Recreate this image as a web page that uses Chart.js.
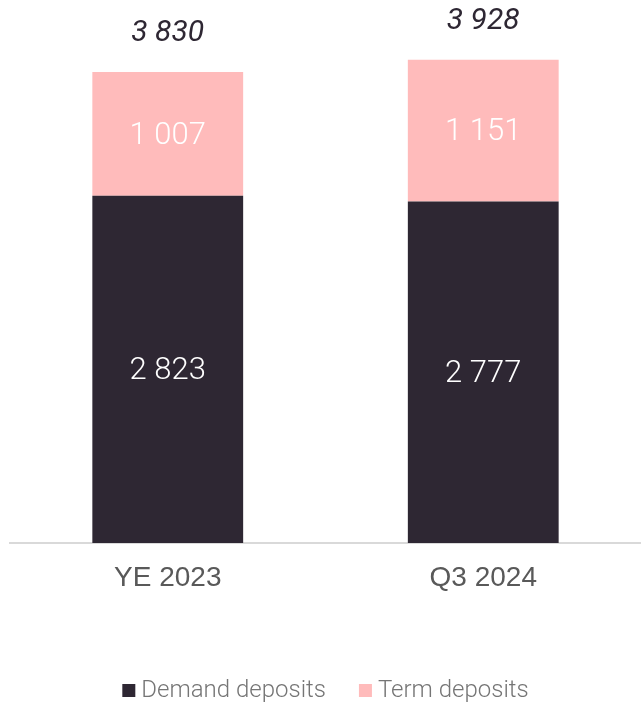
<!DOCTYPE html>
<html>
<head>
<meta charset="utf-8">
<script src="https://cdn.jsdelivr.net/npm/chart.js@4/dist/chart.umd.min.js"></script>
<style>
  html, body { margin: 0; padding: 0; background: #fff; overflow: hidden; }
  #wrap { width: 641px; height: 704px; }
</style>
</head>
<body>
<div id="wrap"><canvas id="grafico"></canvas></div>
<script>
// dados do gráfico
const categorias = ['YE 2023', 'Q3 2024'];
const demandDeposits = [2823, 2777];
const termDeposits = [1007, 1151];

function formatar(v) {
  return String(v).replace(/\B(?=(\d{3})+(?!\d))/g, ' ');
}

// desenha os valores dentro das barras, os totais em cima e a legenda
const rotulos = {
  id: 'rotulos',
  afterDatasetsDraw(chart) {
    const ctx = chart.ctx;
    ctx.save();
    ctx.textAlign = 'center';
    ctx.textBaseline = 'middle';
    ctx.fillStyle = '#ffffff';
    ctx.font = '300 31px Roboto';
    chart.data.datasets.forEach(function(ds, i) {
      chart.getDatasetMeta(i).data.forEach(function(bar, j) {
        const meio = (bar.y + bar.base) / 2;
        ctx.fillText(formatar(ds.data[j]), bar.x, meio + 2);
      });
    });
    const topo = chart.getDatasetMeta(chart.data.datasets.length - 1).data;
    ctx.fillStyle = '#2e2733';
    ctx.font = 'italic 400 30px Roboto';
    ctx.textBaseline = 'bottom';
    topo.forEach(function(bar, j) {
      const total = demandDeposits[j] + termDeposits[j];
      ctx.fillText(formatar(total), bar.x, bar.y - 23);
    });
    ctx.restore();
  },
  afterDraw(chart) {
    // legenda manual (o espaçamento do Chart.js não bate)
    const ctx = chart.ctx;
    const area = chart.chartArea;
    ctx.save();
    ctx.font = '300 24px Roboto';
    ctx.textBaseline = 'middle';
    ctx.textAlign = 'left';
    const itens = chart.data.datasets.map(function(ds) {
      return { texto: ds.label, cor: ds.backgroundColor, w: ctx.measureText(ds.label).width };
    });
    let total = 0;
    itens.forEach(function(it, i) { total += 13 + 6 + it.w + (i > 0 ? 33 : 0); });
    let x = (area.left + area.right) / 2 - total / 2;
    const y = 690;
    itens.forEach(function(it) {
      ctx.fillStyle = it.cor;
      ctx.fillRect(x, y - 6, 13, 13);
      ctx.fillStyle = '#757575';
      ctx.fillText(it.texto, x + 19, y + 1);
      x += 13 + 6 + it.w + 33;
    });
    ctx.restore();
  }
};

var ctx = document.getElementById('grafico').getContext('2d');
var chart = new Chart(ctx, {
  type: 'bar',
  data: {
    labels: categorias,
    datasets: [{
      label: 'Demand deposits',
      data: demandDeposits,
      backgroundColor: '#2e2733'
    }, {
      label: 'Term deposits',
      data: termDeposits,
      backgroundColor: '#ffbbbb'
    }]
  },
  options: {
    responsive: true,
    maintainAspectRatio: false,
    animation: false,
    layout: { padding: { top: 51, left: 10, right: 0, bottom: 0 } },
    datasets: { bar: { barPercentage: 1, categoryPercentage: 0.478 } },
    scales: {
      x: {
        stacked: true,
        grid: { display: false, drawTicks: false },
        border: { display: true, color: '#d9d9d9', width: 2 },
        ticks: { color: '#595959', font: { family: 'Liberation Sans', size: 28 }, padding: 18 },
        afterFit: function(scale) { scale.height = 161; }
      },
      y: {
        stacked: true,
        display: false,
        min: 0,
        max: 4000
      }
    },
    plugins: {
      tooltip: { enabled: false },
      legend: { display: false }
    }
  },
  plugins: [rotulos]
});
</script>
</body>
</html>
